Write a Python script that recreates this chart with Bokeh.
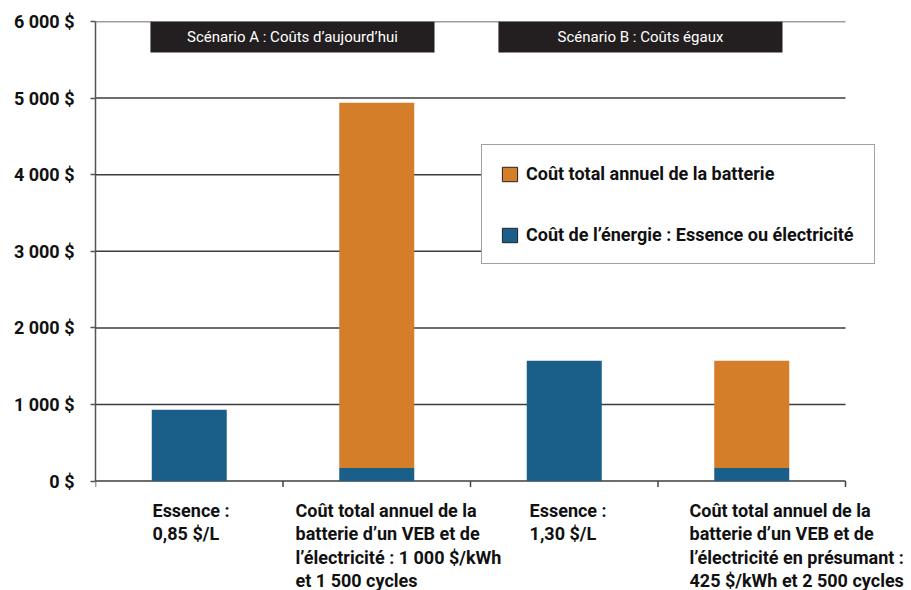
from bokeh.plotting import figure
from bokeh.models import (Range1d, FixedTicker, BoxAnnotation, Label, Legend, LegendItem,
                          ColumnDataSource)
from bokeh.embed import file_html
from bokeh.resources import INLINE

# ---------------- data ----------------
categories = [
    "Essence :\n0,85 $/L",
    "Coût total annuel de la\nbatterie d’un VEB et de\nl’électricité : 1 000 $/kWh\net 1 500 cycles",
    "Essence :\n1,30 $/L",
    "Coût total annuel de la\nbatterie d’un VEB et de\nl’électricité en présumant :\n425 $/kWh et 2 500 cycles",
]
energy_cost = [930, 170, 1570, 170]        # Coût de l'énergie : Essence ou électricité
battery_cost = [0, 4770, 0, 1400]          # Coût total annuel de la batterie
y_ticks = [0, 1000, 2000, 3000, 4000, 5000, 6000]
y_tick_labels = ["0 $", "1 000 $", "2 000 $", "3 000 $", "4 000 $", "5 000 $", "6 000 $"]
scenarios = ["Scénario A : Coûts d’aujourd’hui", "Scénario B : Coûts égaux"]
series_names = ["Coût total annuel de la batterie", "Coût de l’énergie : Essence ou électricité"]

# ---------------- style / layout ----------------
BLUE = "#1A5F8A"
ORANGE = "#D47E2A"
DARK = "#3c3c3c"
FONT = "Roboto"
n = len(categories)
Y_MAX = 6000

W, H = 911, 590
LEFT_BORDER, RIGHT_BORDER, TOP_BORDER = 95, 2, 21
PX_PER_UNIT_Y = 76.6 / 1000.0                      # vertical pixels per dollar
PX_PER_CAT = 187.5                                 # horizontal pixels per category
frame_h = H - TOP_BORDER
frame_w = W - LEFT_BORDER - RIGHT_BORDER
y_min = Y_MAX - frame_h / PX_PER_UNIT_Y            # frame reaches down to hold the labels
x_max = frame_w / PX_PER_CAT                       # room at right for legend / last label

def px_below_zero(px):
    return -px / PX_PER_UNIT_Y

p = figure(width=W, height=H, output_backend="svg", toolbar_location=None,
           x_range=Range1d(0, x_max), y_range=Range1d(y_min, Y_MAX),
           min_border_left=LEFT_BORDER, min_border_right=RIGHT_BORDER,
           min_border_top=TOP_BORDER, min_border_bottom=0)
p.outline_line_color = None
p.background_fill_color = "white"
p.border_fill_color = "white"
p.grid.visible = False
p.xaxis.visible = False

# horizontal grid lines spanning the category area (the one at 0 is the x axis line)
p.segment(x0=[0] * len(y_ticks), x1=[n] * len(y_ticks), y0=y_ticks, y1=y_ticks,
          line_color=DARK, line_width=1.5)
# category separator ticks below the axis
sep = list(range(n + 1))
p.segment(x0=sep, x1=sep, y0=[0] * len(sep), y1=[px_below_zero(6)] * len(sep),
          line_color="#444444", line_width=1.5)

# bars
x_centers = [i + 0.5 for i in range(n)]
bar_w = 0.4
src = ColumnDataSource(dict(x=x_centers, energy=energy_cost,
                            top2=[e + b for e, b in zip(energy_cost, battery_cost)]))
p.vbar(x="x", width=bar_w, bottom=0, top="energy", source=src,
       fill_color=BLUE, line_color=None)
p.vbar(x="x", width=bar_w, bottom="energy", top="top2", source=src,
       fill_color=ORANGE, line_color=None)

# y axis
yax = p.yaxis[0]
yax.bounds = (0, Y_MAX)
yax.ticker = FixedTicker(ticks=y_ticks)
yax.major_label_overrides = {t: l for t, l in zip(y_ticks, y_tick_labels)}
yax.major_tick_in = 0
yax.major_tick_out = 5
yax.minor_tick_out = 0
yax.minor_tick_in = 0
yax.axis_line_color = "#555555"
yax.axis_line_width = 1.5
yax.major_tick_line_color = "#555555"
yax.major_tick_line_width = 1.5
yax.major_label_standoff = 16
yax.major_label_text_font = FONT
yax.major_label_text_font_style = "bold"
yax.major_label_text_font_size = "18px"
yax.major_label_text_color = "#111111"

# category labels: left-aligned lines under each category
label_x = [0.304, 1.067, 2.315, 3.168]
first_baseline_px = 29
line_step_px = 23.5
for lx, txt in zip(label_x, categories):
    for j, line in enumerate(txt.split("\n")):
        p.add_layout(Label(x=lx, y=px_below_zero(first_baseline_px + j * line_step_px),
                           text=line, text_font=FONT, text_font_style="bold",
                           text_font_size="18px", text_color="#111111",
                           text_align="left", text_baseline="alphabetic"))

# scenario banners
banners = [(0.293, 1.808), (2.149, 3.664)]
for (l, r), name in zip(banners, scenarios):
    p.add_layout(BoxAnnotation(left=l, right=r, top=Y_MAX, bottom=5595,
                               fill_color="#231F20", fill_alpha=1.0, line_color=None))
    p.add_layout(Label(x=(l + r) / 2, y=5798, text=name, text_font=FONT,
                       text_font_size="15px", text_color="white",
                       text_align="center", text_baseline="middle"))

# legend swatches (zero-size renderers carrying the outlined legend style)
dummy = ColumnDataSource(dict(x=[x_centers[0]], t=[0]))
r_bat = p.vbar(x="x", top="t", bottom="t", width=0, source=dummy,
               fill_color=ORANGE, line_color="#222222", line_width=1)
r_en = p.vbar(x="x", top="t", bottom="t", width=0, source=dummy,
              fill_color=BLUE, line_color="#222222", line_width=1)
legend = Legend(items=[LegendItem(label=series_names[0], renderers=[r_bat]),
                       LegendItem(label=series_names[1], renderers=[r_en])],
                location=(386, 326), orientation="vertical")
legend.border_line_color = "#444444"
legend.border_line_width = 1.5
legend.background_fill_color = "white"
legend.background_fill_alpha = 1.0
legend.padding = 18
legend.spacing = 40
legend.margin = 0
legend.glyph_width = 19
legend.glyph_height = 18
legend.label_height = 18
legend.label_standoff = 7
legend.label_width = 330
legend.label_text_font = FONT
legend.label_text_font_style = "bold"
legend.label_text_font_size = "18px"
legend.label_text_color = "#111111"
legend.label_text_baseline = "middle"
p.add_layout(legend, "center")

open("out.html", "w").write(file_html(p, INLINE))
